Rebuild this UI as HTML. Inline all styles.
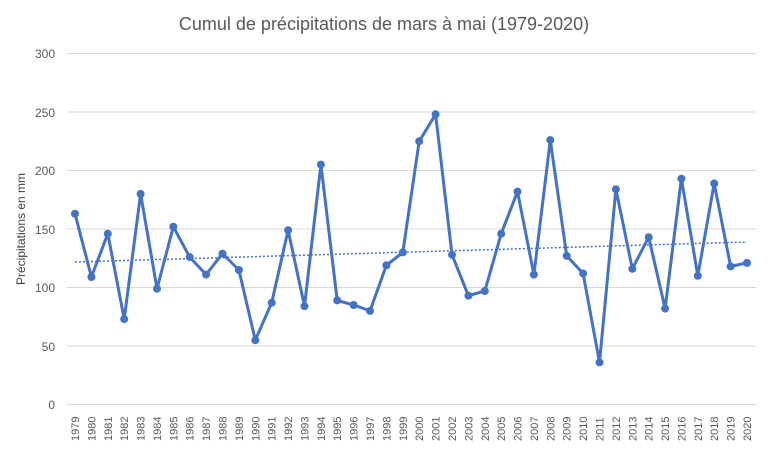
<!DOCTYPE html><html><head><style>body{margin:0;background:#fff}svg{display:block;font-family:"Liberation Sans",sans-serif}</style></head><body>
<svg width="768" height="449" xmlns="http://www.w3.org/2000/svg">
<rect width="768" height="449" fill="#fff"/>
<text x="384" y="30" text-anchor="middle" font-size="18" fill="#595959">Cumul de précipitations de mars à mai (1979-2020)</text>
<g stroke="#d9d9d9" stroke-width="1">
<line x1="67" x2="756" y1="53.5" y2="53.5"/><line x1="67" x2="756" y1="112" y2="112"/><line x1="67" x2="756" y1="170.5" y2="170.5"/><line x1="67" x2="756" y1="229" y2="229"/><line x1="67" x2="756" y1="287.5" y2="287.5"/><line x1="67" x2="756" y1="346" y2="346"/><line x1="67" x2="756" y1="404.5" y2="404.5"/>
</g>
<g font-size="12" fill="#595959" text-anchor="end">
<text x="55" y="58">300</text><text x="55" y="117">250</text><text x="55" y="175">200</text><text x="55" y="234">150</text><text x="55" y="292">100</text><text x="55" y="351">50</text><text x="55" y="409">0</text>
</g>
<text transform="translate(25,229) rotate(-90)" text-anchor="middle" font-size="12" fill="#404040">Précipitations en mm</text>
<g font-size="11" fill="#595959">
<text transform="translate(79,441) rotate(-90)">1979</text>
<text transform="translate(95.4,441) rotate(-90)">1980</text>
<text transform="translate(111.8,441) rotate(-90)">1981</text>
<text transform="translate(128.2,441) rotate(-90)">1982</text>
<text transform="translate(144.6,441) rotate(-90)">1983</text>
<text transform="translate(161,441) rotate(-90)">1984</text>
<text transform="translate(177.3,441) rotate(-90)">1985</text>
<text transform="translate(193.7,441) rotate(-90)">1986</text>
<text transform="translate(210.1,441) rotate(-90)">1987</text>
<text transform="translate(226.5,441) rotate(-90)">1988</text>
<text transform="translate(242.9,441) rotate(-90)">1989</text>
<text transform="translate(259.3,441) rotate(-90)">1990</text>
<text transform="translate(275.7,441) rotate(-90)">1991</text>
<text transform="translate(292.1,441) rotate(-90)">1992</text>
<text transform="translate(308.5,441) rotate(-90)">1993</text>
<text transform="translate(324.9,441) rotate(-90)">1994</text>
<text transform="translate(341.2,441) rotate(-90)">1995</text>
<text transform="translate(357.6,441) rotate(-90)">1996</text>
<text transform="translate(374,441) rotate(-90)">1997</text>
<text transform="translate(390.4,441) rotate(-90)">1998</text>
<text transform="translate(406.8,441) rotate(-90)">1999</text>
<text transform="translate(423.2,441) rotate(-90)">2000</text>
<text transform="translate(439.6,441) rotate(-90)">2001</text>
<text transform="translate(456,441) rotate(-90)">2002</text>
<text transform="translate(472.4,441) rotate(-90)">2003</text>
<text transform="translate(488.8,441) rotate(-90)">2004</text>
<text transform="translate(505.2,441) rotate(-90)">2005</text>
<text transform="translate(521.5,441) rotate(-90)">2006</text>
<text transform="translate(537.9,441) rotate(-90)">2007</text>
<text transform="translate(554.3,441) rotate(-90)">2008</text>
<text transform="translate(570.7,441) rotate(-90)">2009</text>
<text transform="translate(587.1,441) rotate(-90)">2010</text>
<text transform="translate(603.5,441) rotate(-90)">2011</text>
<text transform="translate(619.9,441) rotate(-90)">2012</text>
<text transform="translate(636.3,441) rotate(-90)">2013</text>
<text transform="translate(652.7,441) rotate(-90)">2014</text>
<text transform="translate(669.1,441) rotate(-90)">2015</text>
<text transform="translate(685.4,441) rotate(-90)">2016</text>
<text transform="translate(701.8,441) rotate(-90)">2017</text>
<text transform="translate(718.2,441) rotate(-90)">2018</text>
<text transform="translate(734.6,441) rotate(-90)">2019</text>
<text transform="translate(751,441) rotate(-90)">2020</text>
</g>
<line x1="75" y1="262" x2="747" y2="242" stroke="#4472c4" stroke-width="1.5" stroke-dasharray="2,2"/>
<polyline fill="none" stroke="#4472c4" stroke-width="3" stroke-linejoin="round" points="75,213.8 91.4,277 107.8,233.7 124.2,319.1 140.6,193.9 157,288.7 173.3,226.7 189.7,257.1 206.1,274.6 222.5,253.6 238.9,270 255.3,340.2 271.7,302.7 288.1,230.2 304.5,306.2 320.9,164.6 337.2,300.4 353.6,305 370,310.9 386.4,265.3 402.8,252.4 419.2,141.3 435.6,114.3 452,254.7 468.4,295.7 484.8,291 501.2,233.7 517.5,191.6 533.9,274.6 550.3,140.1 566.7,255.9 583.1,273.5 599.5,362.4 615.9,189.2 632.3,268.8 648.7,237.2 665.1,308.6 681.4,178.7 697.8,275.8 714.2,183.4 730.6,266.4 747,262.9"/>
<g fill="#4472c4">
<circle cx="75" cy="213.8" r="4"/><circle cx="91.4" cy="277" r="4"/><circle cx="107.8" cy="233.7" r="4"/><circle cx="124.2" cy="319.1" r="4"/><circle cx="140.6" cy="193.9" r="4"/><circle cx="157" cy="288.7" r="4"/><circle cx="173.3" cy="226.7" r="4"/><circle cx="189.7" cy="257.1" r="4"/><circle cx="206.1" cy="274.6" r="4"/><circle cx="222.5" cy="253.6" r="4"/><circle cx="238.9" cy="270" r="4"/><circle cx="255.3" cy="340.2" r="4"/><circle cx="271.7" cy="302.7" r="4"/><circle cx="288.1" cy="230.2" r="4"/><circle cx="304.5" cy="306.2" r="4"/><circle cx="320.9" cy="164.6" r="4"/><circle cx="337.2" cy="300.4" r="4"/><circle cx="353.6" cy="305" r="4"/><circle cx="370" cy="310.9" r="4"/><circle cx="386.4" cy="265.3" r="4"/><circle cx="402.8" cy="252.4" r="4"/><circle cx="419.2" cy="141.3" r="4"/><circle cx="435.6" cy="114.3" r="4"/><circle cx="452" cy="254.7" r="4"/><circle cx="468.4" cy="295.7" r="4"/><circle cx="484.8" cy="291" r="4"/><circle cx="501.2" cy="233.7" r="4"/><circle cx="517.5" cy="191.6" r="4"/><circle cx="533.9" cy="274.6" r="4"/><circle cx="550.3" cy="140.1" r="4"/><circle cx="566.7" cy="255.9" r="4"/><circle cx="583.1" cy="273.5" r="4"/><circle cx="599.5" cy="362.4" r="4"/><circle cx="615.9" cy="189.2" r="4"/><circle cx="632.3" cy="268.8" r="4"/><circle cx="648.7" cy="237.2" r="4"/><circle cx="665.1" cy="308.6" r="4"/><circle cx="681.4" cy="178.7" r="4"/><circle cx="697.8" cy="275.8" r="4"/><circle cx="714.2" cy="183.4" r="4"/><circle cx="730.6" cy="266.4" r="4"/><circle cx="747" cy="262.9" r="4"/>
</g>
</svg></body></html>
